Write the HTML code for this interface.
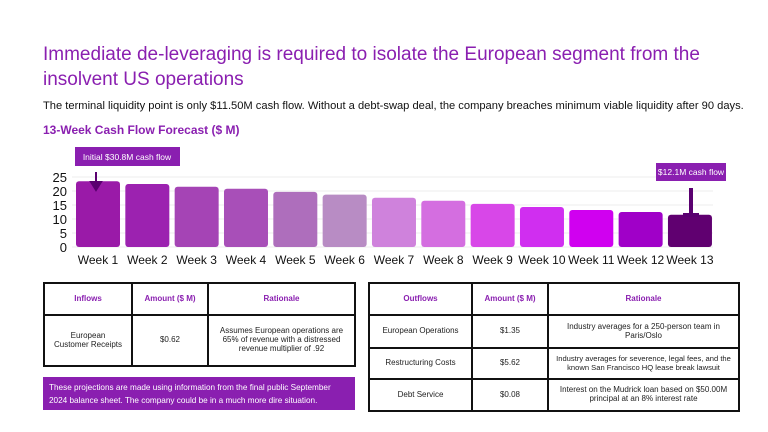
<!DOCTYPE html>
<html><head><meta charset="utf-8"><style>
body{margin:0;width:768px;height:432px;background:#fff;font-family:"Liberation Sans",sans-serif;position:relative;overflow:hidden}
.abs{position:absolute}
table{position:absolute;border-collapse:collapse;font-size:8px;color:#222}
td,th{border:2px solid #111;text-align:center;padding:0 3px;line-height:1.1}
th{color:#8a1fb0;font-weight:bold;font-size:8px}
</style></head><body>
<div class="abs" style="left:43px;top:42px;width:700px;font-size:19px;line-height:25px;color:#8a1fb0">Immediate de-leveraging is required to isolate the European segment from the insolvent US operations</div>
<div class="abs" style="left:43px;top:100px;font-size:11.15px;color:#111;white-space:nowrap">The terminal liquidity point is only $11.50M cash flow. Without a debt-swap deal, the company breaches minimum viable liquidity after 90 days.</div>
<div class="abs" style="left:43px;top:123px;font-size:12px;font-weight:bold;color:#8a1fb0">13-Week Cash Flow Forecast ($ M)</div>
<svg class="abs" style="left:0;top:0" width="768" height="280" id="chart"></svg>
<script>
const weeks=["Week 1","Week 2","Week 3","Week 4","Week 5","Week 6","Week 7","Week 8","Week 9","Week 10","Week 11","Week 12","Week 13"];
const values=[23.5,22.5,21.5,20.8,19.7,18.7,17.6,16.5,15.4,14.3,13.2,12.5,11.5];
const colors=["#9a1aa8","#9c22b0","#a544b5","#a84fb8","#ae6ebc","#b88cc4","#cf82dc","#d46ee0","#d847e8","#d02ef0","#d000f0","#a000c8","#600070"];
const ticks=[0,5,10,15,20,25];
const svg=document.getElementById('chart');const NS="http://www.w3.org/2000/svg";
const y0=247,ppu=2.8,x0=76,step=49.33,bw=44;
const Y=v=>y0-v*ppu, X=i=>x0+i*step;
function mk(t,a,txt){const e=document.createElementNS(NS,t);for(const k in a)e.setAttribute(k,a[k]);if(txt!==undefined)e.textContent=txt;svg.appendChild(e);return e;}
ticks.forEach(t=>{
 const g=mk('line',{x1:72,x2:713,y1:Y(t),y2:Y(t),stroke:'#eee','stroke-width':1});
 
 
 const l=mk('text',{x:67,y:Y(t)+5,'text-anchor':'end','font-size':13,fill:'#111','font-family':'Liberation Sans'},t);
 
 
});
values.forEach((v,i)=>{
 const r=mk('rect',{x:X(i),y:Y(v),width:bw,height:v*ppu,rx:3,fill:colors[i]});
 
 
 const l=mk('text',{x:X(i)+bw/2,y:264,'text-anchor':'middle','font-size':12,fill:'#111','font-family':'Liberation Sans'},weeks[i]);
 
 
});
const a1=mk('rect',{x:75,y:147,width:105,height:19,fill:'#8a1fb0'});


const t1=mk('text',{x:127,y:160,'text-anchor':'middle','font-size':8.5,fill:'#fff','font-family':'Liberation Sans'},'Initial $30.8M cash flow');


const ar1=mk('path',{d:'M96,172 V184 M91,182 L96,190 L101,182 Z',stroke:'#5a0070','stroke-width':2,fill:'#5a0070'});


const a2=mk('rect',{x:656,y:163,width:70,height:18,fill:'#8a1fb0'});


const t2=mk('text',{x:691,y:175,'text-anchor':'middle','font-size':8.5,fill:'#fff','font-family':'Liberation Sans'},'$12.1M cash flow');


const ar2=mk('path',{d:'M691,188 V215 M683,215 H699',stroke:'#5a0070','stroke-width':4,fill:'none'});


</script>
<table style="left:43px;top:282px;width:313px">
<tr style="height:32px"><th style="width:80px">Inflows</th><th style="width:68px">Amount ($ M)</th><th>Rationale</th></tr>
<tr style="height:51px"><td>European<br>Customer Receipts</td><td>$0.62</td><td>Assumes European operations are 65% of revenue with a distressed revenue multiplier of .92</td></tr>
</table>
<div class="abs" style="left:43px;top:377px;width:300px;height:23px;padding:5px 6px;background:#8a1fb0;color:#fff;font-size:8.2px;line-height:12.5px">These projections are made using information from the final public September 2024 balance sheet. The company could be in a much more dire situation.</div>
<table style="left:368px;top:282px;width:372px">
<tr style="height:32px"><th style="width:95px">Outflows</th><th style="width:68px">Amount ($ M)</th><th>Rationale</th></tr>
<tr style="height:33px"><td>European Operations</td><td>$1.35</td><td>Industry averages for a 250-person team in Paris/Oslo</td></tr>
<tr style="height:31px"><td>Restructuring Costs</td><td>$5.62</td><td style="font-size:7.6px">Industry averages for severence, legal fees, and the known San Francisco HQ lease break lawsuit</td></tr>
<tr style="height:32px"><td>Debt Service</td><td>$0.08</td><td>Interest on the Mudrick loan based on $50.00M principal at an 8% interest rate</td></tr>
</table>
</body></html>
